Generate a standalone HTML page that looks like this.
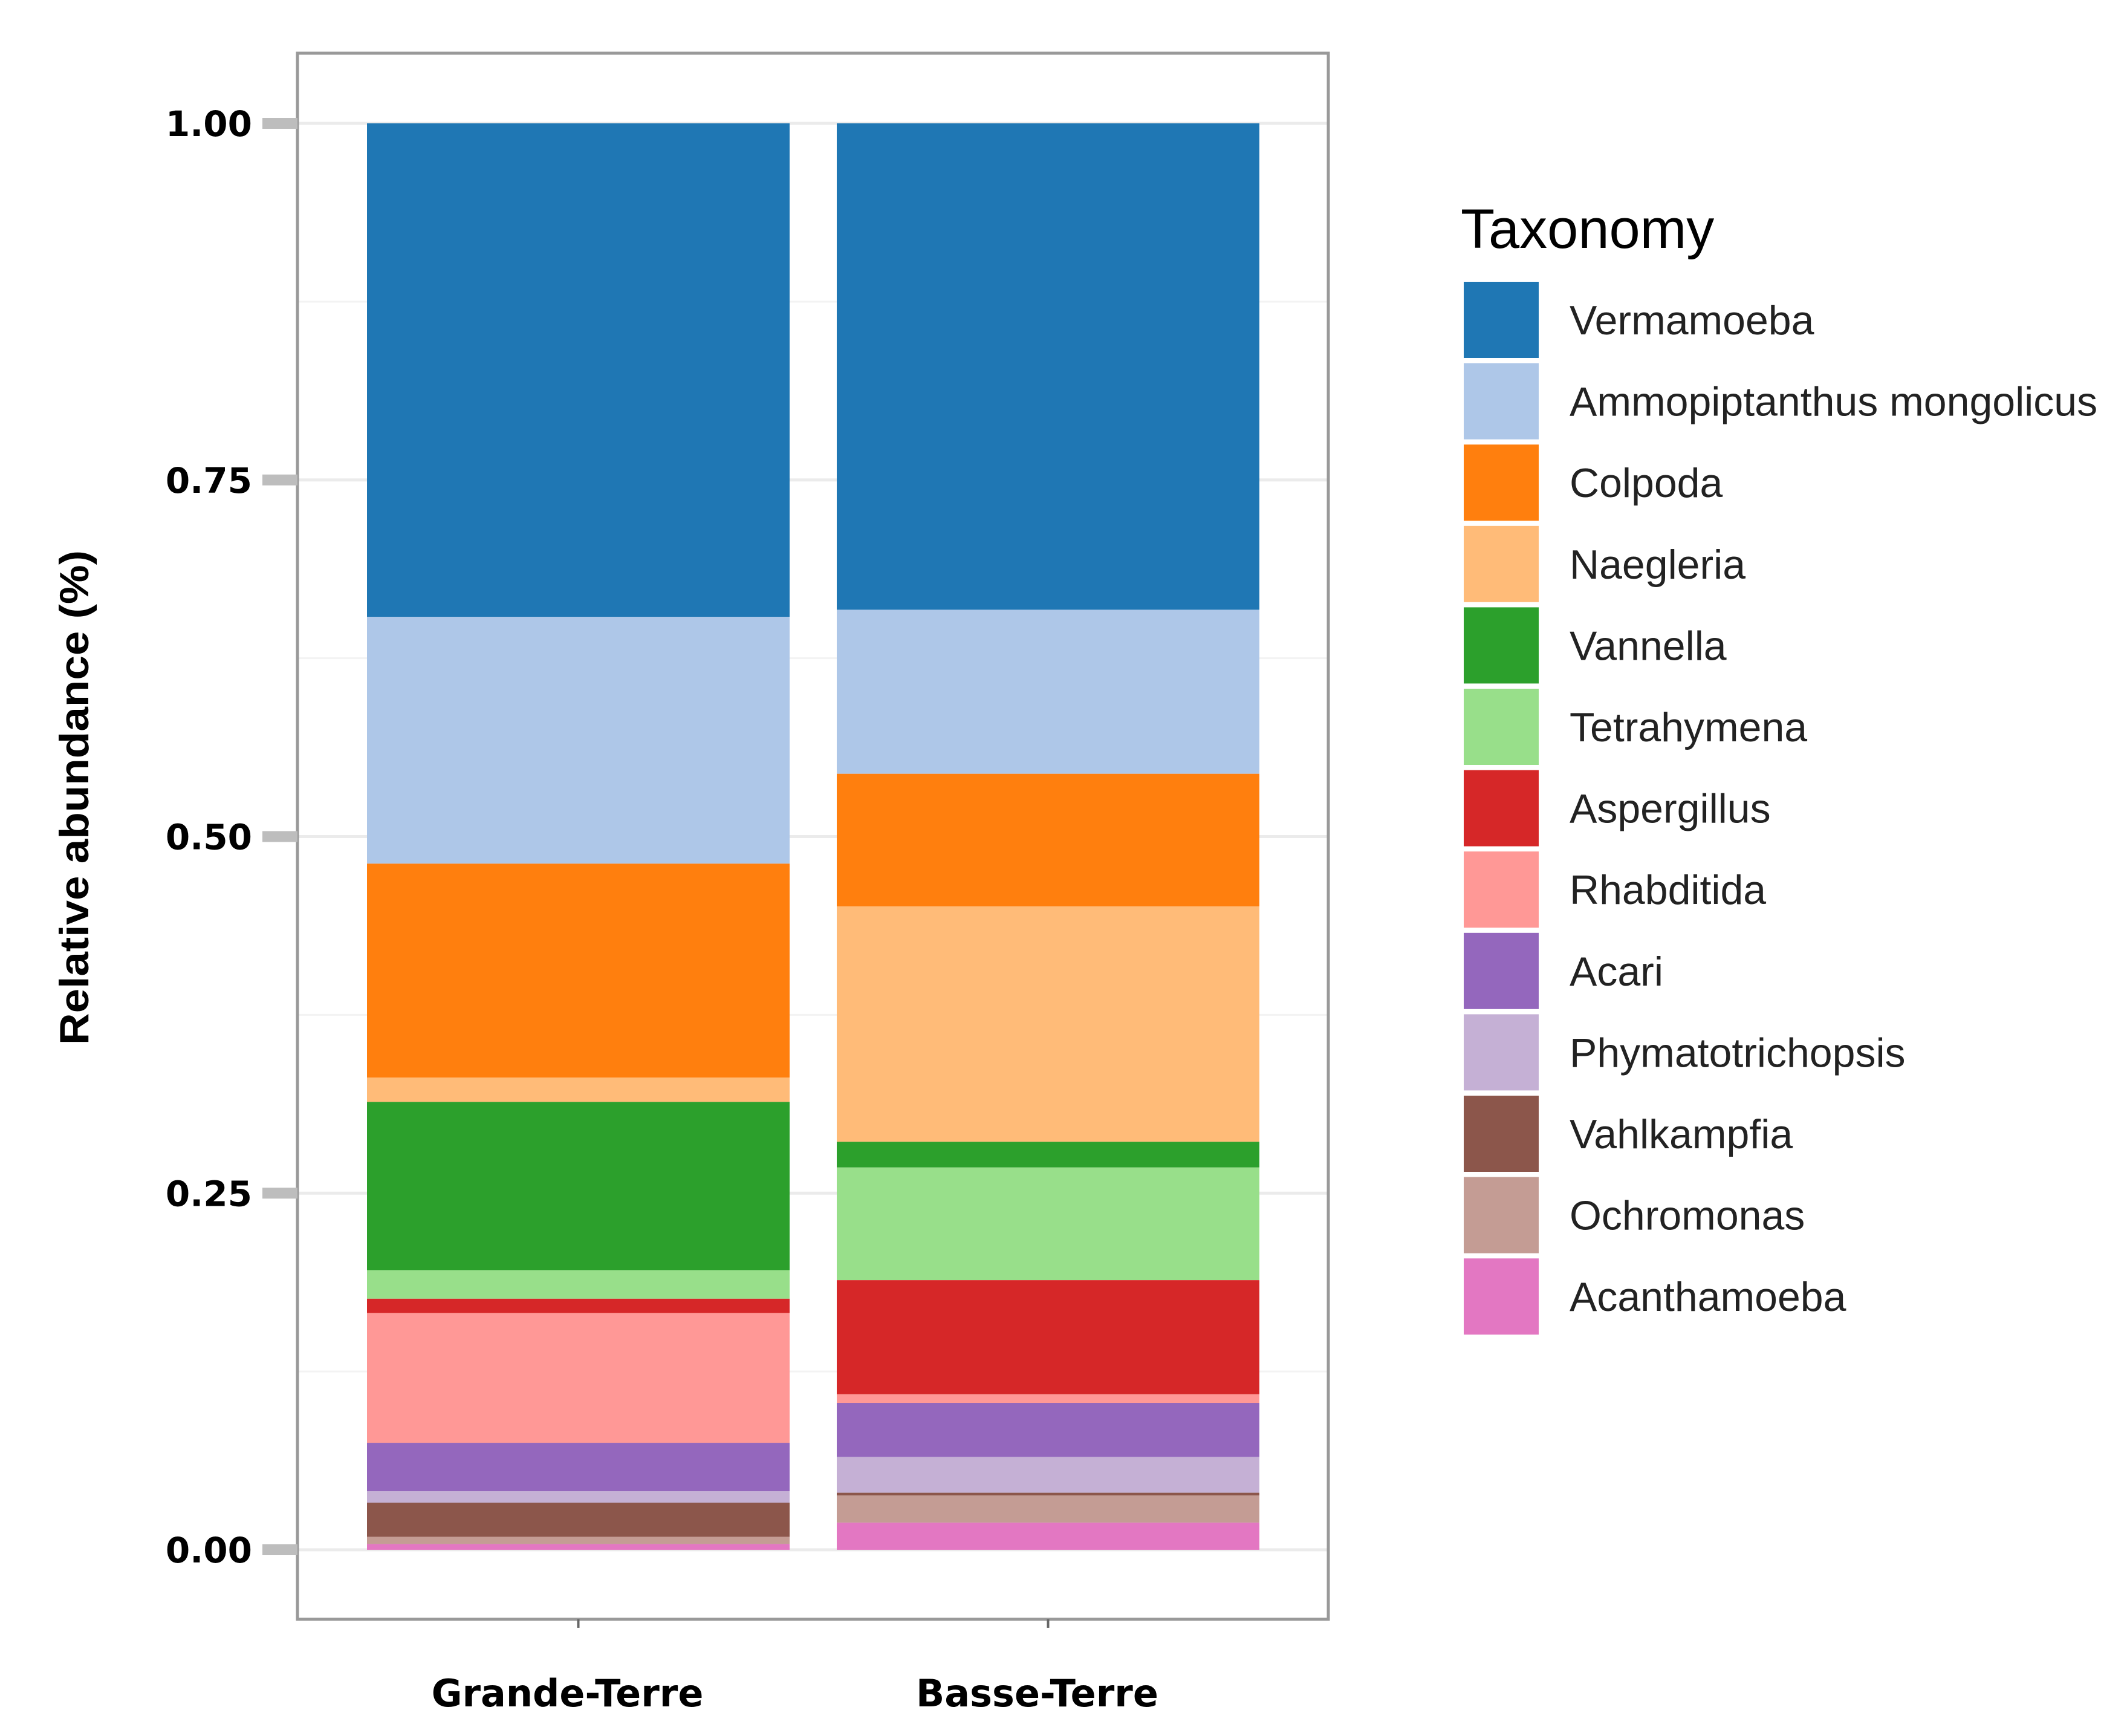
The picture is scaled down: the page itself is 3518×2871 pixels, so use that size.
<!DOCTYPE html>
<html><head><meta charset="utf-8"><style>html,body{margin:0;padding:0;background:#fff}svg{display:block}</style></head>
<body>
<svg id="chart" xmlns="http://www.w3.org/2000/svg" width="3518" height="2871" viewBox="0 0 3518 2871">
<rect x="0" y="0" width="3518" height="2871" fill="#fff"/>
<g id="grid"></g><g id="bars"></g><g id="axes"></g><g id="legend"></g>
</svg>
<script>
const categories = ["Grande-Terre", "Basse-Terre"];
const taxa = ["Vermamoeba","Ammopiptanthus mongolicus","Colpoda","Naegleria","Vannella","Tetrahymena","Aspergillus","Rhabditida","Acari","Phymatotrichopsis","Vahlkampfia","Ochromonas","Acanthamoeba"];
const colors = ["#1f77b4","#aec7e8","#ff7f0e","#ffbb78","#2ca02c","#98df8a","#d62728","#ff9896","#9467bd","#c5b0d5","#8c564b","#c49c94","#e377c2"];
const grandeTerre = [0.346,0.173,0.150,0.017,0.118,0.020,0.010,0.091,0.034,0.008,0.024,0.005,0.004];
const basseTerre = [0.341,0.115,0.093,0.165,0.018,0.079,0.080,0.006,0.038,0.025,0.002,0.019,0.019];
const yTicks = [0, 0.25, 0.5, 0.75, 1];
const yTickLabels = ["0.00","0.25","0.50","0.75","1.00"];
const series = [grandeTerre, basseTerre];

const NS = "http://www.w3.org/2000/svg";
const P = {left:492, right:2197, top:88, bottom:2678};
const y0 = 2563, y1 = 204;
function yScale(v){ return y0 - v*(y0-y1); }
const barLeft0 = 607, barWidth = 699, barStep = 777;
function xBand(i){ return barLeft0 + i*barStep; }
function mk(tag, attrs, parent){ const e=document.createElementNS(NS,tag); for(const k in attrs) e.setAttribute(k,attrs[k]); parent.appendChild(e); return e; }

const grid=document.getElementById('grid'), bars=document.getElementById('bars'), axes=document.getElementById('axes'), legend=document.getElementById('legend');
for(let v=0; v<=1.0001; v+=0.125){
  const g=mk('line',{x1:P.left,x2:P.right,y1:yScale(v),y2:yScale(v),stroke:v*4%1===0?'#ebebeb':'#f3f3f3','stroke-width':v*4%1===0?5:3},grid);
  
  
}
series.forEach((vals,ci)=>{
  let cum = 1;
  vals.forEach((v,ti)=>{
    const top = cum, bot = cum - v; cum = bot;
    const r=mk('rect',{x:xBand(ci),y:yScale(top),width:barWidth,height:Math.max(0,yScale(bot)-yScale(top)),fill:colors[ti]},bars);
    
    
  });
});
const b=mk('rect',{x:P.left,y:P.top,width:P.right-P.left,height:P.bottom-P.top,fill:'none',stroke:'#999','stroke-width':5},axes);


yTicks.forEach((v,i)=>{
  const t=mk('rect',{x:434,y:yScale(v)-9,width:58,height:18,fill:'#bdbdbd'},axes);
  
  
  const l=mk('text',{x:417,y:yScale(v)+21,'text-anchor':'end','font-family':'DejaVu Sans, sans-serif','font-weight':'bold','font-size':58,fill:'#000'},axes);
  l.textContent=yTickLabels[i];
  
  
});
categories.forEach((c,i)=>{
  const cx = xBand(i)+barWidth/2;
  const t=mk('line',{x1:cx,x2:cx,y1:P.bottom,y2:P.bottom+14,stroke:'#666','stroke-width':4},axes);
  
  
  const l=mk('text',{x:cx-18,y:2822,'text-anchor':'middle','font-family':'DejaVu Sans, sans-serif','font-weight':'bold','font-size':62,fill:'#000'},axes);
  l.textContent=c;
  
  
});
const yt=mk('text',{x:0,y:0,transform:'translate(146,1319) rotate(-90)','text-anchor':'middle','font-family':'Liberation Sans, sans-serif','font-weight':'bold','font-size':68,textLength:818,lengthAdjust:'spacingAndGlyphs',fill:'#000'},axes);
yt.textContent='Relative abundance (%)';


const lt=mk('text',{x:2416,y:410,'font-family':'Liberation Sans, sans-serif','font-size':92,fill:'#000'},legend);
lt.textContent='Taxonomy';


taxa.forEach((t,i)=>{
  const yTop = 466 + i*134.6;
  const k=mk('rect',{x:2421,y:yTop,width:124,height:126,fill:colors[i]},legend);
  
  
  const l=mk('text',{x:2596,y:yTop+87,'font-family':'Liberation Sans, sans-serif','font-size':68,fill:'#222'},legend);
  l.textContent=t;
  
  
});
</script>
</body></html>
